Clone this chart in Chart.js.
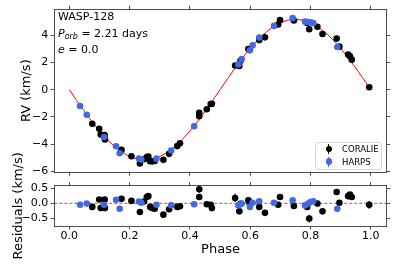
<!DOCTYPE html>
<html><head><meta charset="utf-8">
<script src="https://cdn.jsdelivr.net/npm/chart.js@4.4.0/dist/chart.umd.min.js"></script>
<style>
html,body{margin:0;padding:0;background:#fff;}
#wrap{position:relative;width:395px;height:264px;overflow:hidden;font-family:"DejaVu Sans",sans-serif;}
canvas{position:absolute;left:0;top:0;}
.ann{position:absolute;left:58px;font-size:11px;line-height:13px;color:#000;white-space:nowrap;}
.ann sub{font-size:8px;font-style:italic;vertical-align:-2px;line-height:0;}
.legend{position:absolute;left:315px;top:141.5px;width:67px;height:28px;border:1px solid #d6d6d6;border-radius:3px;background:rgba(255,255,255,0.85);box-sizing:border-box;font-size:8.5px;color:#000;}
.row{position:absolute;left:0;height:10px;line-height:10px;white-space:nowrap;}
.mk{position:absolute;left:9.5px;top:0;width:6.6px;height:10px;}
.mk .bar{position:absolute;left:2.8px;top:0;width:1px;height:10px;}
.mk .dot{position:absolute;left:0;top:1.7px;width:6.6px;height:6.6px;border-radius:50%;}
.lt{position:absolute;left:26px;top:0;}
</style></head>
<body>
<div id="wrap">
<canvas id="top" width="395" height="264"></canvas>
<canvas id="bot" width="395" height="264"></canvas>
<div class="ann" style="top:9.8px">WASP-128</div>
<div class="ann" style="top:26.5px"><i>P</i><sub>orb</sub> = 2.21 days</div>
<div class="ann" style="top:43.2px"><i>e</i> = 0.0</div>
<div class="legend">
  <div class="row" style="top:1.5px"><div class="mk"><div class="bar" style="background:#000"></div><div class="dot" style="background:#000"></div></div><span class="lt">CORALIE</span></div>
  <div class="row" style="top:14px"><div class="mk"><div class="bar" style="background:#4169E1"></div><div class="dot" style="background:#4169E1"></div></div><span class="lt">HARPS</span></div>
</div>
</div>
<script>
// ---- data ----
const phaseC = [0.076,0.099,0.104,0.117,0.118,0.173,0.206,0.234,0.248,0.257,0.262,0.268,0.275,0.283,0.312,0.331,0.358,0.367,0.431,0.431,0.456,0.469,0.473,0.550,0.564,0.568,0.594,0.599,0.630,0.649,0.693,0.699,0.745,0.789,0.796,0.823,0.840,0.887,0.896,0.925,0.931,0.937,0.995];
const rvC = [-2.49,-2.87,-3.29,-3.32,-3.64,-4.41,-4.87,-5.41,-5.09,-4.93,-4.89,-5.24,-5.25,-5.22,-5.14,-4.70,-4.13,-3.92,-1.69,-1.95,-1.43,-1.05,-1.03,1.77,1.74,2.12,2.97,2.98,3.63,3.83,4.77,5.10,5.06,4.88,4.42,4.61,4.08,3.74,3.15,2.58,2.45,2.20,0.18];
const resC = [-0.12,0.13,-0.16,0.13,-0.16,0.15,0.08,-0.29,0.06,0.21,0.24,-0.12,-0.16,-0.18,-0.38,-0.20,-0.12,-0.10,0.47,0.21,-0.03,-0.05,-0.16,0.18,-0.27,-0.02,0.10,-0.02,-0.12,-0.32,-0.05,0.21,-0.09,-0.12,-0.51,-0.01,-0.27,0.38,0.02,0.24,0.29,0.21,-0.05];
const errC = [0.05,0.05,0.05,0.05,0.05,0.05,0.05,0.06,0.05,0.05,0.05,0.05,0.05,0.05,0.06,0.05,0.05,0.05,0.12,0.06,0.05,0.05,0.05,0.14,0.06,0.05,0.05,0.05,0.05,0.06,0.05,0.06,0.05,0.05,0.13,0.05,0.06,0.08,0.06,0.06,0.06,0.06,0.13];

const phaseH = [0.0355,0.0577,0.115,0.155,0.167,0.231,0.239,0.289,0.338,0.414,0.561,0.572,0.599,0.608,0.630,0.679,0.741,0.782,0.793,0.800,0.809,0.889];
const rvH = [-1.19,-1.84,-3.46,-4.14,-4.65,-5.05,-5.12,-5.05,-4.45,-2.68,1.85,2.24,2.88,3.25,3.82,4.67,5.24,4.98,4.95,4.94,4.87,3.13];
const resH = [-0.05,-0.01,-0.05,0.12,-0.18,0.06,0.02,-0.05,-0.07,-0.03,-0.07,-0.01,-0.12,0.02,0.07,0.02,0.10,-0.07,-0.01,0.04,0.07,-0.18];
const errH = [0.02,0.02,0.02,0.02,0.02,0.02,0.02,0.02,0.02,0.02,0.02,0.02,0.02,0.02,0.02,0.02,0.02,0.02,0.02,0.02,0.02,0.02];

const modelPhase = [0,0.025,0.05,0.075,0.1,0.125,0.15,0.175,0.2,0.225,0.25,0.275,0.3,0.325,0.35,0.375,0.4,0.425,0.45,0.475,0.5,0.525,0.55,0.575,0.6,0.625,0.65,0.675,0.7,0.725,0.75,0.775,0.8,0.825,0.85,0.875,0.9,0.925,0.95,0.975,0.995];
const modelRV = [0,-0.81,-1.59,-2.34,-3.03,-3.64,-4.17,-4.59,-4.90,-5.09,-5.15,-5.09,-4.90,-4.59,-4.17,-3.64,-3.03,-2.34,-1.59,-0.81,0,0.81,1.59,2.34,3.03,3.64,4.17,4.59,4.90,5.09,5.15,5.09,4.90,4.59,4.17,3.64,3.03,2.34,1.59,0.81,0.16];

const phaseTicks = [0,0.2,0.4,0.6,0.8,1.0];
const rvTicks = [-6,-4,-2,0,2,4];
const resTicks = [-0.5,0,0.5];
const zeroLevel = 0;

// ---- helpers ----
const BLUE = '#4169E1';
const AX = '#222';
const FONT = '"DejaVu Sans", sans-serif';
const pts = (xs, ys) => xs.map((x,i)=>({x, y: ys[i]}));
const minus = s => String(s).replace('-', '\u2212');

const errorBars = {
  id: 'errorBars',
  beforeDatasetDraw(chart, args) {
    const ds = chart.data.datasets[args.index];
    if (!ds.errors) return;
    const xs = chart.scales.x, ys = chart.scales.y, ctx = chart.ctx;
    ctx.save();
    ctx.strokeStyle = ds.backgroundColor;
    ctx.lineWidth = 1.2;
    ds.data.forEach((p, i) => {
      const e = ds.errors[i];
      const px = xs.getPixelForValue(p.x);
      ctx.beginPath();
      ctx.moveTo(px, ys.getPixelForValue(p.y - e));
      ctx.lineTo(px, ys.getPixelForValue(p.y + e));
      ctx.stroke();
    });
    ctx.restore();
  }
};

function mkAxis(pos, min, max, ticks, size, showLabels, fmt, title) {
  const horiz = pos === 'top' || pos === 'bottom';
  return {
    type: 'linear', position: pos, min, max, display: true,
    afterBuildTicks: s => { s.ticks = ticks.map(v => ({value: v})); },
    afterFit: s => { if (horiz) s.height = size; else s.width = size; },
    grid: { drawOnChartArea: false, drawTicks: true, tickLength: 3.5, color: AX, lineWidth: 0.8 },
    border: { display: true, color: AX, width: 0.8 },
    ticks: { display: showLabels, color: '#000', font: { family: FONT, size: 11 }, padding: horiz ? 0 : 2.5,
             maxRotation: 0, callback: fmt },
    title: title || { display: false }
  };
}

const xMin = -0.05, xMax = 1.053;

new Chart(document.getElementById('top'), {
  type: 'scatter',
  data: { datasets: [
    { label: 'HARPS', data: pts(phaseH, rvH), errors: errH, backgroundColor: BLUE, borderWidth: 0, pointRadius: 3.3, order: 0 },
    { label: 'CORALIE', data: pts(phaseC, rvC), errors: errC, backgroundColor: '#000', borderWidth: 0, pointRadius: 3.3, order: 1 },
    { label: 'model', type: 'line', data: pts(modelPhase, modelRV), borderColor: '#ff0000', borderWidth: 1, pointRadius: 0, fill: false, tension: 0, order: 2 }
  ]},
  options: {
    responsive: false, animation: false, devicePixelRatio: 1,
    layout: { padding: { top: 0, left: 0, right: 0, bottom: 84 } },
    plugins: { legend: { display: false }, tooltip: { enabled: false } },
    scales: {
      x: mkAxis('bottom', xMin, xMax, phaseTicks, 7.7, false),
      x2: mkAxis('top', xMin, xMax, phaseTicks, 8.3, false),
      y: mkAxis('left', -6.05, 5.9, rvTicks, 54.3, true, v => minus(v),
        { display: true, text: 'RV (km/s)', color: '#000', font: { family: FONT, size: 13 }, padding: { top: 19, bottom: 0 } }),
      y2: mkAxis('right', -6.05, 5.9, rvTicks, 8.3, false)
    }
  },
  plugins: [errorBars]
});

new Chart(document.getElementById('bot'), {
  type: 'scatter',
  data: { datasets: [
    { label: 'HARPS', data: pts(phaseH, resH), errors: errH, backgroundColor: BLUE, borderWidth: 0, pointRadius: 3.3, order: 0 },
    { label: 'CORALIE', data: pts(phaseC, resC), errors: errC, backgroundColor: '#000', borderWidth: 0, pointRadius: 3.3, order: 1 },
    { label: 'zero', type: 'line', data: [{x: xMin, y: zeroLevel}, {x: xMax, y: zeroLevel}], borderColor: '#e0203a', borderWidth: 0.9, borderDash: [3, 2], pointRadius: 0, fill: false, order: 2 }
  ]},
  options: {
    responsive: false, animation: false, devicePixelRatio: 1,
    layout: { padding: { top: 176, left: 0, right: 0, bottom: 0 } },
    plugins: { legend: { display: false }, tooltip: { enabled: false } },
    scales: {
      x: mkAxis('bottom', xMin, xMax, phaseTicks, 38, true, v => v.toFixed(1),
        { display: true, text: 'Phase', color: '#000', font: { family: FONT, size: 13 }, padding: { top: 0, bottom: 7 } }),
      x2: mkAxis('top', xMin, xMax, phaseTicks, 9.7, false),
      y: mkAxis('left', -0.76, 0.59, resTicks, 54.3, true, v => minus(v.toFixed(1)),
        { display: true, text: 'Residuals (km/s)', color: '#000', font: { family: FONT, size: 13 }, padding: { top: 11, bottom: 0 } }),
      y2: mkAxis('right', -0.76, 0.59, resTicks, 8.3, false)
    }
  },
  plugins: [errorBars]
});
</script>
</body></html>
